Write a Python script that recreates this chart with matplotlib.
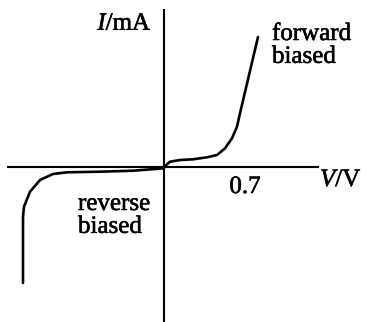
import matplotlib
matplotlib.use("Agg")
import matplotlib.pyplot as plt
import matplotlib.patheffects as pe

# ── Data (V in volts, I in mA, sketch units) ─────────────────────────────────
fwd_v = [0.0, 0.06, 0.16, 0.29, 0.43, 0.53, 0.61, 0.68, 0.73, 0.76, 0.94]
fwd_i = [0.0, 0.53, 0.70, 0.77, 0.97, 1.20, 1.87, 2.87, 4.03, 5.37, 13.0]

rev_v = [0.0, -0.31, -0.64, -0.97, -1.11, -1.24, -1.34, -1.40, -1.41, -1.41]
rev_i = [-0.13, -0.37, -0.47, -0.53, -0.70, -1.30, -2.47, -3.97, -4.97, -11.6]

knee_label = "0.7"

plt.rcParams["mathtext.fontset"] = "custom"
plt.rcParams["mathtext.rm"] = "Liberation Serif"
plt.rcParams["mathtext.it"] = "Liberation Serif:italic"
FONT = "Liberation Serif"

fig = plt.figure(figsize=(3.69, 3.22), dpi=100)
ax = fig.add_axes([0, 0, 1, 1])
ax.set_xlim(-1.64, 2.05)
ax.set_ylim(-15.5, 16.7)

# axes through the origin
for side in ["top", "right"]:
    ax.spines[side].set_visible(False)
ax.spines["left"].set_position(("data", 0))
ax.spines["bottom"].set_position(("data", 0))
ax.spines["left"].set_bounds(-15.5, 15.7)
ax.spines["bottom"].set_bounds(-1.56, 1.54)
for side in ["left", "bottom"]:
    ax.spines[side].set_linewidth(1.5)
ax.set_xticks([])
ax.set_yticks([])

# characteristic curve
ax.plot(fwd_v, fwd_i, color="black", lw=1.9, solid_capstyle="round")
ax.plot(rev_v, rev_i, color="black", lw=1.9, solid_capstyle="round")

fs = 18
thick = [pe.withStroke(linewidth=0.4, foreground="black")]
txt = dict(fontsize=fs, family=FONT, path_effects=thick)
ax.text(-0.12, 13.7, "$I$/mA", ha="right", va="baseline", **txt)
ax.text(1.56, -1.9, "$V$/V", ha="left", va="baseline", **txt)
ax.text(0.81, -2.6, knee_label, ha="center", va="baseline", **txt)
ax.text(1.08, 14.4, "forward\nbiased", ha="left", va="top",
        linespacing=1.05, **txt)
ax.text(-0.86, -2.6, "reverse\nbiased", ha="left", va="top",
        linespacing=1.05, **txt)

plt.savefig("out.png", dpi=100)
